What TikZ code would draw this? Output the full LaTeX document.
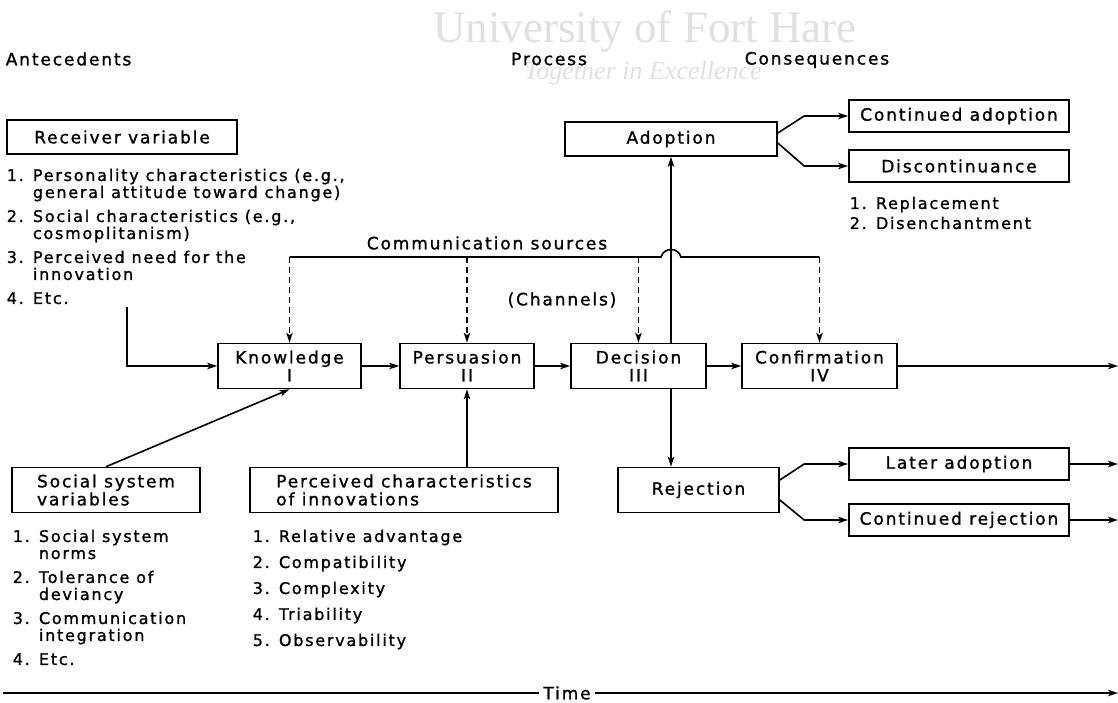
\documentclass[tikz,border=0pt]{standalone}
\usepackage{fontspec}
\setmainfont{DejaVu Sans}[LetterSpace=11, FakeBold=1.2]
\newfontfamily\wmfont{Liberation Serif}
\usetikzlibrary{positioning, arrows.meta}

\begin{document}
\begin{tikzpicture}[x=1pt, y=-1pt, line width=1.6pt,
    font=\fontsize{17}{18}\selectfont,
    box/.style={draw, align=center, inner sep=2pt},
    lst/.style={align=left, anchor=north west, inner sep=0pt, font=\fontsize{16}{17}\selectfont},
    arr/.style={-{Stealth[length=10pt, width=6.5pt, inset=2.5pt]}},
    chan/.style={arr, dash pattern=on 6pt off 4pt},
    mark wm/.style={text=black!12, inner sep=0pt}]
    \useasboundingbox (0,0) rectangle (1118,702);

    % watermark
    \node[mark wm, font=\wmfont\fontsize{45}{45}\selectfont] (wm1) at (645,32) {University of Fort Hare};
    \node[mark wm, font=\wmfont\itshape\fontsize{26}{26}\selectfont] (wm2) at (643,73) {Together in Excellence};

    % headings
    \node[anchor=west, inner sep=0pt] (ante) at (5,59) {Antecedents};
    \node[inner sep=0pt] (proc) at (549,59) {Process};
    \node[anchor=west, inner sep=0pt] (cons) at (744,60) {Consequences};

    % antecedents
    \node[box, minimum width=230, minimum height=34] (recv) at (122,137) {Receiver variable};
    \node[lst] (rlist) at (6,168) {1. Personality characteristics (e.g.,\\
        \hphantom{1. }general attitude toward change)\\[7pt]
        2. Social characteristics (e.g.,\\
        \hphantom{2. }cosmoplitanism)\\[7pt]
        3. Perceived need for the\\
        \hphantom{3. }innovation\\[7pt]
        4. Etc.};
    \coordinate (rstart) at (127,307);

    \node[box, minimum width=188, minimum height=45, align=left] (social) at (106,490) {Social system\\variables};
    \node[lst] (slist) at (12,529) {1. Social system\\
        \hphantom{1. }norms\\[7pt]
        2. Tolerance of\\
        \hphantom{2. }deviancy\\[7pt]
        3. Communication\\
        \hphantom{3. }integration\\[7pt]
        4. Etc.};

    \node[box, minimum width=308, minimum height=45, align=left] (perc) at (404,490) {Perceived characteristics\\of innovations};
    \node[lst] (plist) at (252,529) {1. Relative advantage\\[9pt]
        2. Compatibility\\[9pt]
        3. Complexity\\[9pt]
        4. Triability\\[9pt]
        5. Observability};

    % process
    \node[box, minimum width=143, minimum height=45] (know) at (289.5,366) {Knowledge\\I};
    \node[box, minimum width=134, minimum height=45] (pers) at (467,366) {Persuasion\\II};
    \node[box, minimum width=135, minimum height=45] (deci) at (638.5,366) {Decision\\III};
    \node[box, minimum width=155, minimum height=45] (conf) at (819.5,366) {Confirmation\\IV};

    \node[inner sep=0pt] (comm) at (487,243) {Communication sources};
    \node[inner sep=0pt] (chnl) at (562,300) {(Channels)};
    \coordinate (cl) at (0,257);

    % consequences
    \node[box, minimum width=212, minimum height=34] (adopt) at (671,139) {Adoption};
    \node[box, minimum width=220, minimum height=32] (cadopt) at (959,116) {Continued adoption};
    \node[box, minimum width=220, minimum height=32] (discont) at (959,166) {Discontinuance};
    \node[lst] (dlist) at (849,196) {1. Replacement\\[3pt] 2. Disenchantment};

    \node[box, minimum width=161, minimum height=45] (rej) at (698.5,490) {Rejection};
    \node[box, minimum width=220, minimum height=32] (later) at (959,464) {Later adoption};
    \node[box, minimum width=220, minimum height=32] (crej) at (959,520) {Continued rejection};

    \coordinate (rim) at (1118,0);

    % time
    \node (time) at (567,693) {Time};
    \coordinate (tl) at (3,693);
    \coordinate (tr) at (1118,693);

    % connectors
    \draw[arr] (rstart) |- (know.west);
    \draw[arr] (social.north) -- (know.south);
    \draw[arr] (pers.south |- perc.north) -- (pers.south);

    \draw[arr] (know) -- (pers);
    \draw[arr] (pers) -- (deci);
    \draw[arr] (deci) -- (conf);
    \draw[arr] (conf) -- (conf -| rim);

    \draw (know.north |- cl) -- ([xshift=-10pt]adopt.south |- cl)
        .. controls +(3,-10) and +(-3,-10) .. ([xshift=10pt]adopt.south |- cl)
        -- (conf.north |- cl);
    \foreach \n in {know, pers, deci, conf}
        \draw[chan] (\n.north |- cl) -- (\n.north);

    \draw[arr] (deci.north -| adopt.south) -- (adopt.south);
    \draw[arr] (deci.south -| adopt.south) -- (rej.north -| adopt.south);

    \draw[arr] ([yshift=6pt]adopt.east) -- ([xshift=-44pt]cadopt.west) -- (cadopt.west);
    \draw[arr] ([yshift=-4pt]adopt.east) -- ([xshift=-44pt]discont.west) -- (discont.west);
    \draw[arr] ([yshift=10pt]rej.east) -- ([xshift=-44pt]later.west) -- (later.west);
    \draw[arr] ([yshift=-10pt]rej.east) -- ([xshift=-44pt]crej.west) -- (crej.west);
    \draw[arr] (later) -- (later -| rim);
    \draw[arr] (crej) -- (crej -| rim);

    \draw (tl) -- (time);
    \draw[arr] (time) -- (tr);
\end{tikzpicture}
\end{document}
